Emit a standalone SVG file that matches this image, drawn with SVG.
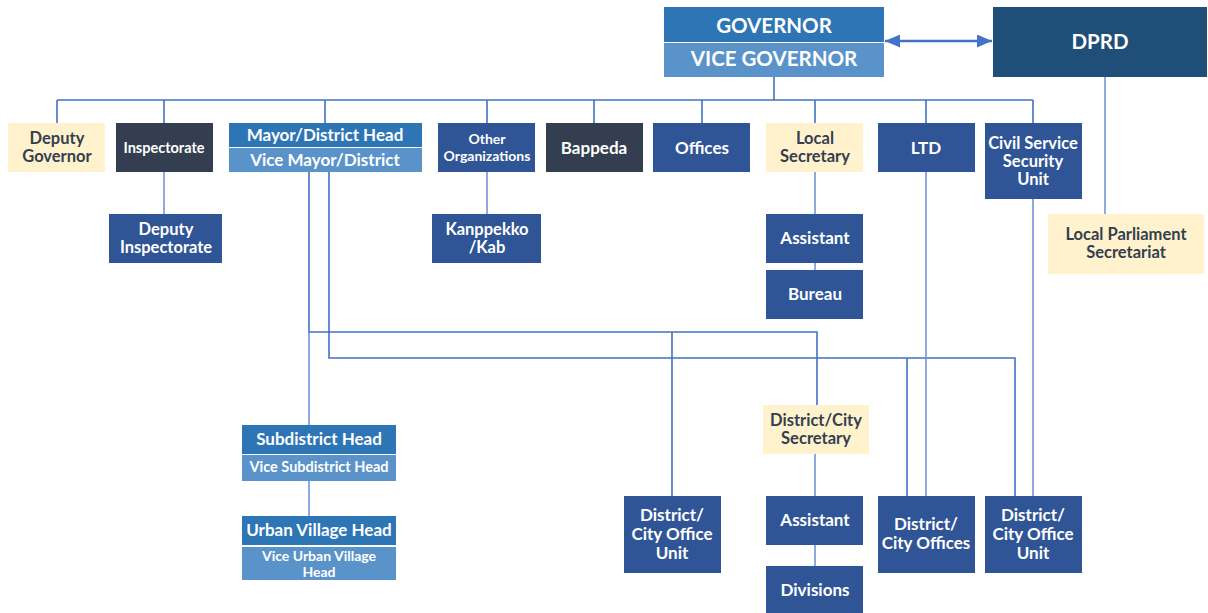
<svg xmlns="http://www.w3.org/2000/svg" width="1208" height="613" viewBox="0 0 1208 613">
<defs>
<style>
.t{font-family:Lato,"Open Sans","Liberation Sans",sans-serif;font-weight:bold;text-anchor:middle;fill:#fff}
.d{fill:#333F50}
.c{fill:none;stroke:#4472C4;stroke-width:1.6}
.cl{fill:none;stroke:#6A8FD6;stroke-width:1.5}
.blue{fill:#2F5597}
.dark{fill:#333F50}
.cream{fill:#FFF2CC}
.mid{fill:#2E75B6}
.light{fill:#5A93C9}
</style>
<marker id="ah" viewBox="0 0 15 13" refX="15" refY="6.5" markerWidth="15" markerHeight="13" markerUnits="userSpaceOnUse" orient="auto-start-reverse">
<path d="M0,0 L15,6.5 L0,13 z" fill="#4472C4"/>
</marker>
</defs>
<rect width="1208" height="613" fill="#fff"/>
<g id="connectors">
<path class="c" d="M774,77 V100 M57,100 H1033 M57,100 V123 M164,100 V123 M325,100 V123 M487,100 V123 M594,100 V123 M702,100 V123 M815,100 V123 M926,100 V123 M1033,100 V123"/>
<path class="cl" d="M1105,77 V214"/>
<path class="cl" d="M164,172 V214 M487,172 V214 M815,172 V214 M815,263 V270"/>
<path class="c" d="M309,172 V332 H817 V405 M672,332 V496"/>
<path class="c" d="M329,172 V358 H1015 V496 M907,358 V496"/>
<path class="cl" d="M926,172 V496 M1033,199 V496"/>
<path class="cl" d="M309,332 V425 M309,481 V516"/>
<path class="cl" d="M815,454 V496 M815,545 V566"/>
<line x1="885" y1="41" x2="992" y2="41" stroke="#4472C4" stroke-width="2.5" marker-start="url(#ah)" marker-end="url(#ah)"/>
</g>
<g id="governor">
<rect class="mid" x="664" y="7" width="220" height="35"/>
<text class="t" x="774" y="33" font-size="20.5">GOVERNOR</text>
</g>
<g id="vice-governor">
<rect class="light" x="664" y="43" width="220" height="34"/>
<text class="t" x="774" y="66" font-size="20.5">VICE GOVERNOR</text>
</g>
<g id="dprd">
<rect x="993" y="7" width="214" height="70" fill="#1F4E79"/>
<text class="t" x="1100" y="49" font-size="20.5">DPRD</text>
</g>
<g id="deputy-governor">
<rect class="cream" x="8" y="123" width="97" height="49"/>
<text class="t d" x="57" y="144" font-size="16.5">Deputy</text>
<text class="t d" x="57" y="162" font-size="16.5">Governor</text>
</g>
<g id="inspectorate">
<rect class="dark" x="116" y="123" width="97" height="49"/>
<text class="t" x="164" y="153" font-size="14.5">Inspectorate</text>
</g>
<g id="mayor">
<rect class="mid" x="229" y="123" width="193" height="24"/>
<text class="t" x="325" y="141" font-size="17">Mayor/District Head</text>
</g>
<g id="vice-mayor">
<rect class="light" x="229" y="148" width="193" height="24"/>
<text class="t" x="325" y="166" font-size="17">Vice Mayor/District</text>
</g>
<g id="other-organizations">
<rect class="blue" x="438" y="123" width="97" height="49"/>
<text class="t" x="487" y="144" font-size="14">Other</text>
<text class="t" x="487" y="161" font-size="14">Organizations</text>
</g>
<g id="bappeda">
<rect class="dark" x="546" y="123" width="97" height="49"/>
<text class="t" x="594" y="154" font-size="17">Bappeda</text>
</g>
<g id="offices">
<rect class="blue" x="653" y="123" width="97" height="49"/>
<text class="t" x="702" y="154" font-size="17">Offices</text>
</g>
<g id="local-secretary">
<rect class="cream" x="766" y="123" width="97" height="49"/>
<text class="t d" x="815" y="144" font-size="16.5">Local</text>
<text class="t d" x="815" y="162" font-size="16.5">Secretary</text>
</g>
<g id="ltd">
<rect class="blue" x="878" y="123" width="97" height="49"/>
<text class="t" x="926" y="154" font-size="17">LTD</text>
</g>
<g id="civil-service">
<rect class="blue" x="985" y="123" width="97" height="76"/>
<text class="t" x="1033" y="149" font-size="16.5">Civil Service</text>
<text class="t" x="1033" y="167" font-size="16.5">Security</text>
<text class="t" x="1033" y="185" font-size="16.5">Unit</text>
</g>
<g id="local-parliament-secretariat">
<rect class="cream" x="1048" y="214" width="156" height="60"/>
<text class="t d" x="1126" y="240" font-size="16.5">Local Parliament</text>
<text class="t d" x="1126" y="258" font-size="16.5">Secretariat</text>
</g>
<g id="deputy-inspectorate">
<rect class="blue" x="109" y="214" width="113" height="49"/>
<text class="t" x="166" y="235" font-size="16.5">Deputy</text>
<text class="t" x="166" y="253" font-size="16.5">Inspectorate</text>
</g>
<g id="kanppekko">
<rect class="blue" x="432" y="214" width="109" height="49"/>
<text class="t" x="487" y="235" font-size="16.5">Kanppekko</text>
<text class="t" x="487" y="253" font-size="16.5">/Kab</text>
</g>
<g id="assistant">
<rect class="blue" x="766" y="214" width="97" height="49"/>
<text class="t" x="815" y="244" font-size="17">Assistant</text>
</g>
<g id="bureau">
<rect class="blue" x="766" y="270" width="97" height="49"/>
<text class="t" x="815" y="300" font-size="17">Bureau</text>
</g>
<g id="subdistrict-head">
<rect class="mid" x="242" y="425" width="154" height="29"/>
<text class="t" x="319" y="445" font-size="17">Subdistrict Head</text>
</g>
<g id="vice-subdistrict-head">
<rect class="light" x="242" y="455" width="154" height="26"/>
<text class="t" x="319" y="472" font-size="14.5">Vice Subdistrict Head</text>
</g>
<g id="urban-village-head">
<rect class="mid" x="242" y="516" width="154" height="29"/>
<text class="t" x="319" y="536" font-size="17">Urban Village Head</text>
</g>
<g id="vice-urban-village-head">
<rect class="light" x="242" y="547" width="154" height="33"/>
<text class="t" x="319" y="561" font-size="14">Vice Urban Village</text>
<text class="t" x="319" y="577" font-size="14">Head</text>
</g>
<g id="district-city-office-unit-1">
<rect class="blue" x="624" y="496" width="97" height="77"/>
<text class="t" x="672" y="521" font-size="17">District/</text>
<text class="t" x="672" y="540" font-size="17">City Office</text>
<text class="t" x="672" y="559" font-size="17">Unit</text>
</g>
<g id="district-city-secretary">
<rect class="cream" x="763" y="405" width="106" height="49"/>
<text class="t d" x="816" y="426" font-size="16.5">District/City</text>
<text class="t d" x="816" y="444" font-size="16.5">Secretary</text>
</g>
<g id="assistant-2">
<rect class="blue" x="766" y="496" width="97" height="49"/>
<text class="t" x="815" y="526" font-size="17">Assistant</text>
</g>
<g id="divisions">
<rect class="blue" x="766" y="566" width="97" height="47"/>
<text class="t" x="815" y="596" font-size="17">Divisions</text>
</g>
<g id="district-city-offices">
<rect class="blue" x="878" y="496" width="97" height="77"/>
<text class="t" x="926" y="530" font-size="17">District/</text>
<text class="t" x="926" y="549" font-size="17">City Offices</text>
</g>
<g id="district-city-office-unit-2">
<rect class="blue" x="985" y="496" width="97" height="77"/>
<text class="t" x="1033" y="521" font-size="17">District/</text>
<text class="t" x="1033" y="540" font-size="17">City Office</text>
<text class="t" x="1033" y="559" font-size="17">Unit</text>
</g>
</svg>
